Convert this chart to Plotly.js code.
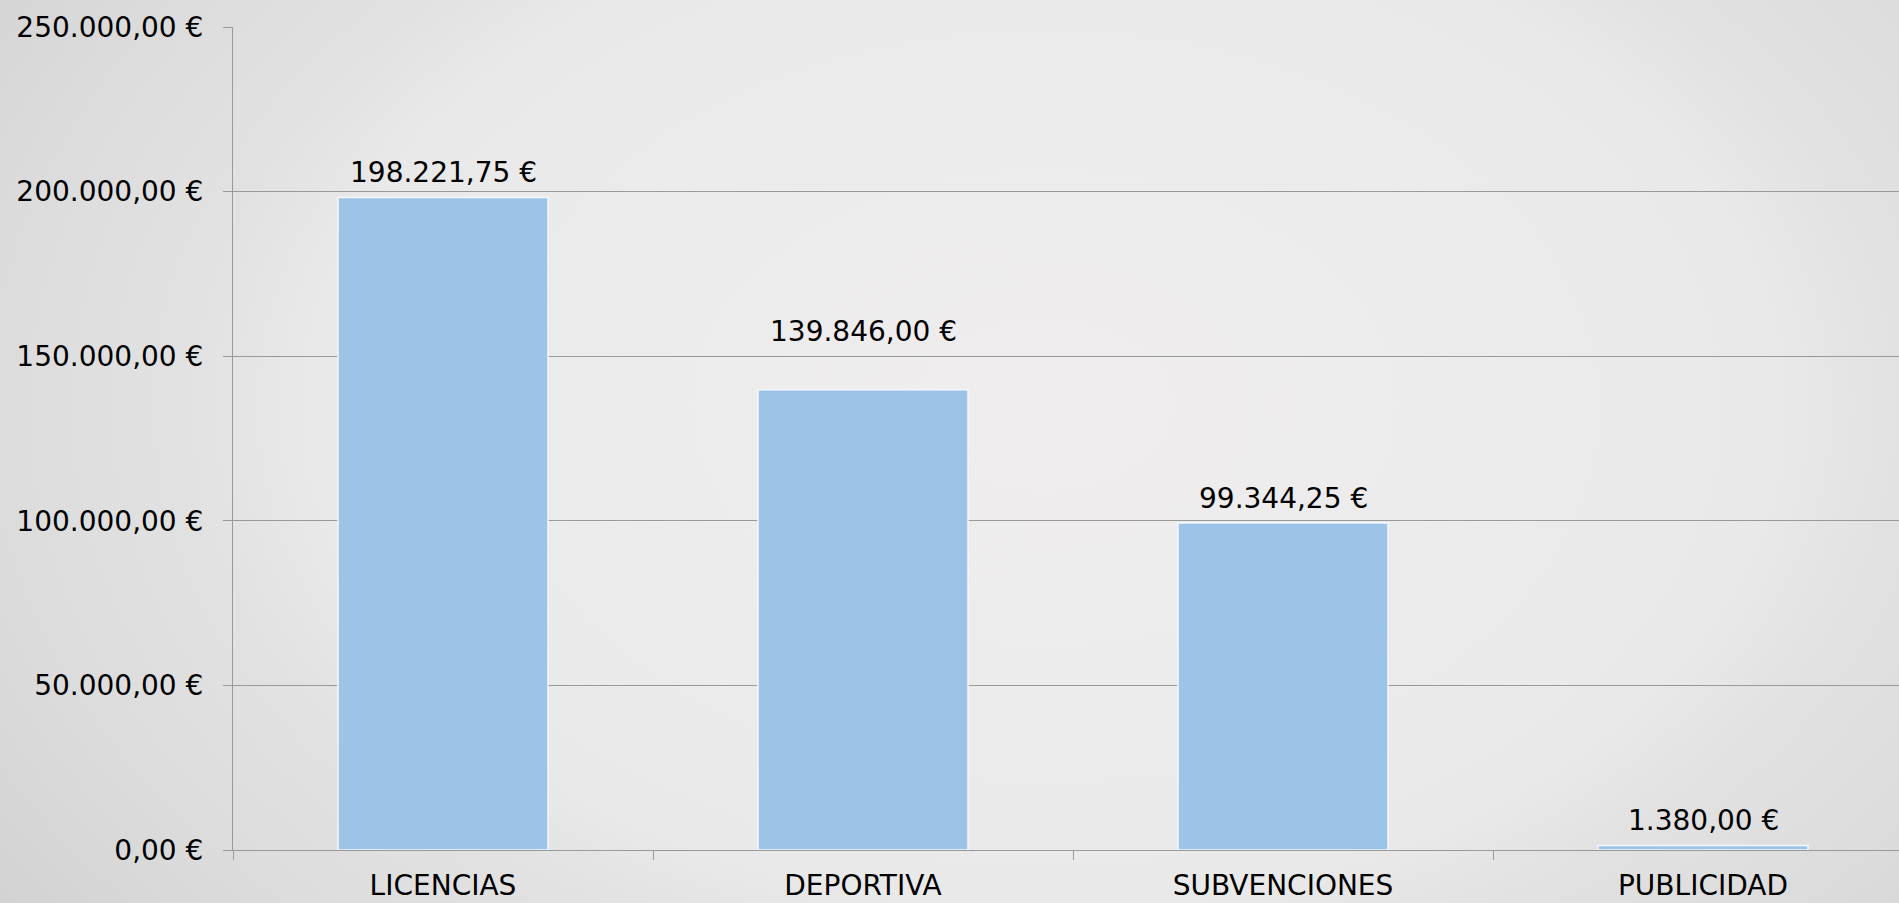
<!DOCTYPE html>
<html>
<head>
<meta charset="utf-8">
<script src="https://cdn.plot.ly/plotly-3.0.1.min.js"></script>
<style>
  html, body { margin: 0; padding: 0; width: 1899px; height: 903px; overflow: hidden; }
  body { background: radial-gradient(ellipse 70% 100% at 55% 45%, #efeded 0%, #ecebeb 40%, #eae9e9 55%, #e3e2e2 64%, #dcdcdc 79%, #d0d0d0 100%); }
  #chart { width: 1899px; height: 903px; }
</style>
</head>
<body>
<div id="chart"></div>
<script>
const categories = ["LICENCIAS", "DEPORTIVA", "SUBVENCIONES", "PUBLICIDAD"];
const values = [198221.75, 139846.00, 99344.25, 1380.00];
const valueLabels = ["198.221,75 €", "139.846,00 €", "99.344,25 €", "1.380,00 €"];
const yTickVals = [0, 50000, 100000, 150000, 200000, 250000];
const yTickText = ["0,00 €", "50.000,00 €", "100.000,00 €", "150.000,00 €", "200.000,00 €", "250.000,00 €"];

const font = { family: "DejaVu Sans, Verdana, sans-serif", size: 28, color: "#000000" };

const trace = {
  type: "bar",
  x: categories,
  y: values,
  marker: { color: "#9dc3e6", line: { color: "#f4f8fc", width: 1.5 } },
  hoverinfo: "none"
};

// the DEPORTIVA data label sits higher above its bar in the original
const labelShift = (i) => (i === 1 ? 40 : 6);

const annotations = categories.map((c, i) => ({
  x: c, y: values[i], xref: "x", yref: "y",
  text: valueLabels[i], showarrow: false,
  yanchor: "bottom", yshift: labelShift(i),
  font: font
}));

const layout = {
  width: 1899, height: 903,
  margin: { l: 233, r: 0, t: 27, b: 53, pad: 0 },
  paper_bgcolor: "rgba(0,0,0,0)",
  plot_bgcolor: "rgba(0,0,0,0)",
  font: font,
  bargap: 0.5,
  showlegend: false,
  xaxis: {
    type: "category",
    range: [-0.5, 3.5 - 14 / 420],
    showgrid: false,
    showline: true, linecolor: "#999999", linewidth: 1,
    ticks: "outside", tickson: "boundaries", ticklen: 9, tickcolor: "#999999",
    tickfont: font,
    ticklabelstandoff: 10,
    zeroline: false,
    fixedrange: true
  },
  yaxis: {
    range: [0, 250000],
    tickvals: yTickVals, ticktext: yTickText,
    showgrid: true, gridcolor: "#999999", gridwidth: 1,
    showline: true, linecolor: "#999999", linewidth: 1,
    ticks: "outside", ticklen: 9, tickcolor: "#999999",
    tickfont: font,
    ticklabelstandoff: 14,
    zeroline: false,
    fixedrange: true
  },
  annotations: annotations
};

Plotly.newPlot("chart", [trace], layout, { displayModeBar: false, staticPlot: true });
</script>
</body>
</html>
